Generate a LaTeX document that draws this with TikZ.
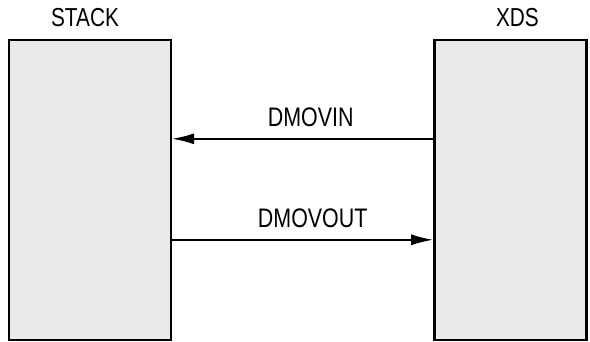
\documentclass[tikz,border=0pt]{standalone}
\usepackage{fontspec}
\setmainfont{Liberation Sans}[FakeStretch=0.8]
\usetikzlibrary{positioning, arrows.meta, calc}
\definecolor{boxgray}{RGB}{234,234,234}
\tikzset{
  unit/.style={
    draw=black, line width=1.2pt, fill=boxgray,
    minimum height=150pt, inner sep=0pt,
  },
  unitlabel/.style={font=\fontsize{13}{15}\selectfont, inner sep=0pt},
  flow/.style={draw=black, line width=0.8pt, -{Latex[length=11pt, width=5.5pt]}},
  flowlabel/.style={font=\fontsize{13.4}{15}\selectfont, inner sep=0pt},
}

\begin{document}
\begin{tikzpicture}[x=0.5pt, y=-0.5pt]
\useasboundingbox (0,0) rectangle (590,342);

\node[unit, minimum width=81pt] (stack) at (90,190) {};
\node[unit, minimum width=76pt, right=130.5pt of stack] (xds) {};

\node[unitlabel, above=6pt of stack, xshift=-2.5pt] (stacklbl) {STACK};
\node[unitlabel, above=6pt of xds, xshift=3.5pt] (xdslbl) {XDS};

% data movement between the two units
\coordinate (in) at ($(stack.north)+(0,100)$);
\coordinate (out) at ($(stack.north)+(0,201)$);
\draw[flow] (in -| xds.west) -- (in -| stack.east)
  node[flowlabel, midway, above=5.5pt, xshift=4pt]{DMOVIN};
\draw[flow] (out -| stack.east) -- (out -| xds.west)
  node[flowlabel, midway, above=5.5pt, xshift=5pt]{DMOVOUT};

\end{tikzpicture}
\end{document}
